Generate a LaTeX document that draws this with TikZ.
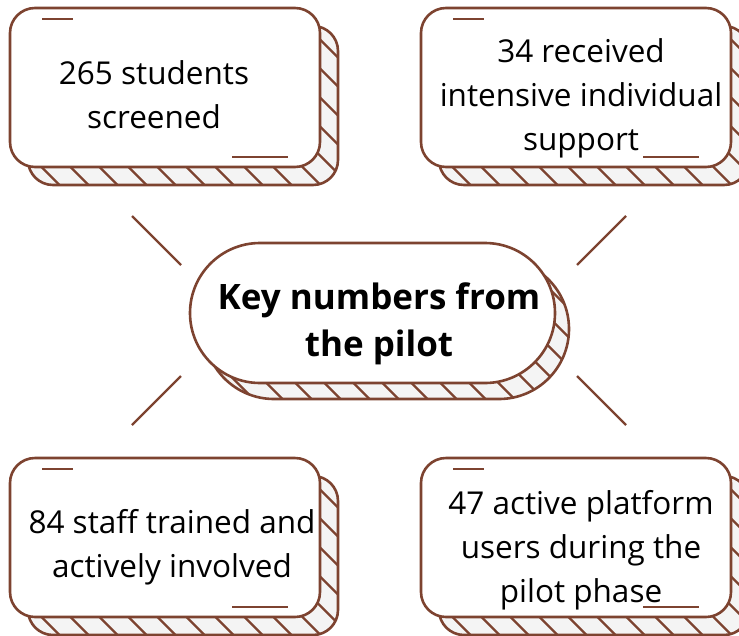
\documentclass[tikz,border=0pt]{standalone}
\usepackage{fontspec}
\setmainfont{Open Sans}
\usepackage{tikz}
\usetikzlibrary{positioning, calc}

\definecolor{brn}{HTML}{7D4330}
\definecolor{shadowgray}{HTML}{F4F4F4}

\begin{document}
\begin{tikzpicture}[x=1pt, y=-1pt,
    statcard/.style={draw=brn, line width=2.6pt, fill=white, rounded corners=25pt,
        minimum width=310pt, minimum height=159pt, inner sep=0pt, outer sep=0pt},
    pillcard/.style={statcard, rounded corners=70pt, minimum width=365pt, minimum height=140pt},
    hatched/.style={fill=shadowgray, path picture={
        \foreach \k in {-16,...,16}
            \draw[brn, line width=2.3pt] ([xshift=\k*29pt]path picture bounding box.center)
                ++(-240pt,240pt) -- ++(480pt,-480pt);}},
    cardtext/.style={align=center, inner sep=0pt, font=\fontsize{31.5}{44}\selectfont},
    tick/.style={draw=brn, line width=2.6pt},
    ray/.style={draw=brn, line width=2.2pt}]

    \useasboundingbox (0,0) rectangle (739,635);

    % Shadows
    \node[statcard, hatched] at (183,105.5) {};
    \node[statcard, hatched] at (594,105.5) {};
    \node[statcard, hatched] at (183,555.5) {};
    \node[statcard, hatched] at (594,555.5) {};
    \node[pillcard, hatched] at (386.5,329) {};

    % Cards
    \node[statcard] (screened) at (165,87.5) {};
    \node[statcard] (support)  at (576,87.5) {};
    \node[statcard] (staff)    at (165,537.5) {};
    \node[statcard] (platform) at (576,537.5) {};
    \node[pillcard] (pilot)    at (372.5,313) {};

    % Texts
    \node[cardtext] at ([shift={(-11,7.5)}]screened.center) {265 students\\screened};
    \node[cardtext] at ([shift={(5,11)}]support.center) {34 received\\intensive individual\\support};
    \node[cardtext] at ([shift={(7,9.5)}]staff.center) {84 staff trained and\\actively involved};
    \node[cardtext] at ([shift={(5,13)}]platform.center) {47 active platform\\users during the\\pilot phase};
    \node[cardtext, font=\fontsize{35}{47}\selectfont\bfseries] at ([shift={(6.5,11)}]pilot.center) {Key numbers from\\the pilot};

    % Ticks
    \foreach \card in {screened, support, staff, platform} {
        \draw[tick] ([shift={(32,11)}]\card.north west) -- ++(31,0);
        \draw[tick] ([shift={(-88,-10)}]\card.south east) -- ++(56,0);
    }

    % Rays
    \coordinate (mid) at (379,320.5);
    \foreach \sx/\sy in {-1/-1, 1/-1, -1/1, 1/1}
        \draw[ray] ($(mid)+(\sx*247,\sy*104.5)$) -- ++(\sx*-49,\sy*-49);
\end{tikzpicture}
\end{document}
